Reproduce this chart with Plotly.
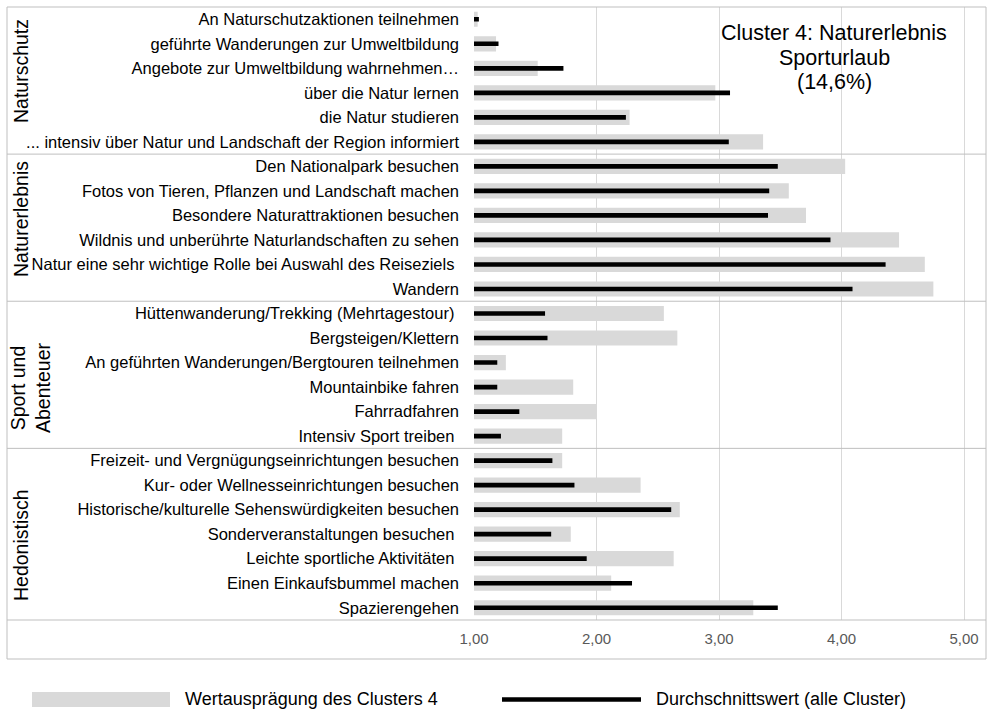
import plotly.graph_objects as go

categories = [
    "An Naturschutzaktionen teilnehmen",
    "geführte Wanderungen zur Umweltbildung",
    "Angebote zur Umweltbildung wahrnehmen…",
    "über die Natur lernen",
    "die Natur studieren",
    "... intensiv über Natur und Landschaft der Region informiert",
    "Den Nationalpark besuchen",
    "Fotos von Tieren, Pflanzen und Landschaft machen",
    "Besondere Naturattraktionen besuchen",
    "Wildnis und unberührte Naturlandschaften zu sehen",
    "Natur eine sehr wichtige Rolle bei Auswahl des Reiseziels ",
    "Wandern",
    "Hüttenwanderung/Trekking (Mehrtagestour) ",
    "Bergsteigen/Klettern",
    "An geführten Wanderungen/Bergtouren teilnehmen",
    "Mountainbike fahren",
    "Fahrradfahren",
    "Intensiv Sport treiben ",
    "Freizeit- und Vergnügungseinrichtungen besuchen",
    "Kur- oder Wellnesseinrichtungen besuchen",
    "Historische/kulturelle Sehenswürdigkeiten besuchen",
    "Sonderveranstaltungen besuchen ",
    "Leichte sportliche Aktivitäten ",
    "Einen Einkaufsbummel machen",
    "Spazierengehen",
]

cluster4_values = [
    1.03, 1.18, 1.52, 2.97, 2.27, 3.36,
    4.03, 3.57, 3.71, 4.47, 4.68, 4.75,
    2.55, 2.66, 1.26, 1.81, 2.00, 1.72,
    1.72, 2.36, 2.68, 1.79, 2.63, 2.12, 3.28,
]

average_values = [
    1.04, 1.20, 1.73, 3.09, 2.24, 3.08,
    3.48, 3.41, 3.40, 3.91, 4.36, 4.09,
    1.58, 1.60, 1.19, 1.19, 1.37, 1.22,
    1.64, 1.82, 2.61, 1.63, 1.92, 2.29, 3.48,
]

x_ticks = [1, 2, 3, 4, 5]

groups = ["Naturschutz", "Naturerlebnis", "Sport und<br>Abenteuer", "Hedonistisch"]
group_sizes = [6, 6, 6, 7]

cluster_title_lines = ["Cluster 4: Naturerlebnis", "Sporturlaub", "(14,6%)"]
legend_labels = ["Wertausprägung des Clusters 4", "Durchschnittswert (alle Cluster)"]

FONT = "Liberation Sans, Arial, sans-serif"
W, H = 988, 709
ML, MR, MT, MB = 7, 2, 7, 50
PW = W - ML - MR
PH = H - MT - MB


def px(x):
    return (x - ML) / PW


def py(y):
    return (H - MB - y) / PH


fig = go.Figure()
fig.add_trace(go.Bar(
    y=categories, x=cluster4_values, orientation="h",
    marker=dict(color="#d9d9d9", line=dict(width=0)),
    width=0.62, name=legend_labels[0],
))
fig.add_trace(go.Bar(
    y=categories, x=average_values, orientation="h",
    marker=dict(color="#000000", line=dict(width=0)),
    width=0.19, name=legend_labels[1],
))

shapes = []
shapes.append(dict(type="rect", xref="paper", yref="paper", x0=0, x1=1, y0=0, y1=1,
                   line=dict(color="#bfbfbf", width=1), layer="above"))
y_bottom = py(620)
shapes.append(dict(type="line", xref="paper", yref="paper", x0=0, x1=1, y0=y_bottom, y1=y_bottom,
                   line=dict(color="#bfbfbf", width=1)))
cum = 0
for s in group_sizes[:-1]:
    cum += s
    shapes.append(dict(type="line", xref="paper", yref="y", x0=0, x1=1,
                       y0=cum - 0.5, y1=cum - 0.5, line=dict(color="#bfbfbf", width=1)))
shapes.append(dict(type="rect", xref="paper", yref="paper", x0=px(32), x1=px(170),
                   y0=py(707), y1=py(692), fillcolor="#d9d9d9", line=dict(width=0)))
shapes.append(dict(type="line", xref="paper", yref="paper", x0=px(502), x1=px(641),
                   y0=py(699.5), y1=py(699.5), line=dict(color="#000000", width=4.5)))

annotations = []
group_centers_px = [71, 219, 388, 545]
group_x_px = [21, 21, 30, 21]
for g, yc, xc in zip(groups, group_centers_px, group_x_px):
    annotations.append(dict(text=g, xref="paper", yref="paper", x=px(xc), y=py(yc),
                            textangle=-90, showarrow=False, xanchor="center", yanchor="middle",
                            font=dict(family=FONT, size=19.5, color="#000000")))
for line, yc in zip(cluster_title_lines, [33, 58, 82]):
    annotations.append(dict(text=line, xref="paper", yref="paper", x=px(834), y=py(yc),
                            showarrow=False, xanchor="center", yanchor="middle",
                            font=dict(family=FONT, size=21.5, color="#000000")))
annotations.append(dict(text=legend_labels[0], xref="paper", yref="paper",
                        x=px(183), y=py(699), xanchor="left", yanchor="middle", showarrow=False,
                        font=dict(family=FONT, size=18, color="#000000")))
annotations.append(dict(text=legend_labels[1], xref="paper", yref="paper",
                        x=px(654), y=py(699), xanchor="left", yanchor="middle", showarrow=False,
                        font=dict(family=FONT, size=18, color="#000000")))

fig.update_layout(
    width=W, height=H,
    margin=dict(l=ML, r=MR, t=MT, b=MB, autoexpand=False),
    paper_bgcolor="white", plot_bgcolor="white",
    barmode="overlay", showlegend=False,
    separators=", ",
    font=dict(family=FONT, size=16, color="#000000"),
    shapes=shapes, annotations=annotations,
    xaxis=dict(
        domain=[px(474), 1], range=[1, 1 + (986 - 474) / 122.5],
        tickvals=x_ticks, tickformat=".2f", automargin=False,
        showgrid=True, gridcolor="#d9d9d9", gridwidth=1,
        zeroline=False, showline=False, ticks="",
        ticklabelstandoff=8,
        tickfont=dict(family=FONT, size=15, color="#595959"),
    ),
    yaxis=dict(
        domain=[py(620), 1], type="category", automargin=False,
        categoryorder="array", categoryarray=categories,
        autorange="reversed", showgrid=False, zeroline=False, showline=False, ticks="",
        ticklabelstandoff=14,
        tickfont=dict(family=FONT, size=16.5, color="#000000"),
    ),
)

fig.write_html("out.html", config={"displayModeBar": False},
               post_script="document.body.style.margin='0';")
